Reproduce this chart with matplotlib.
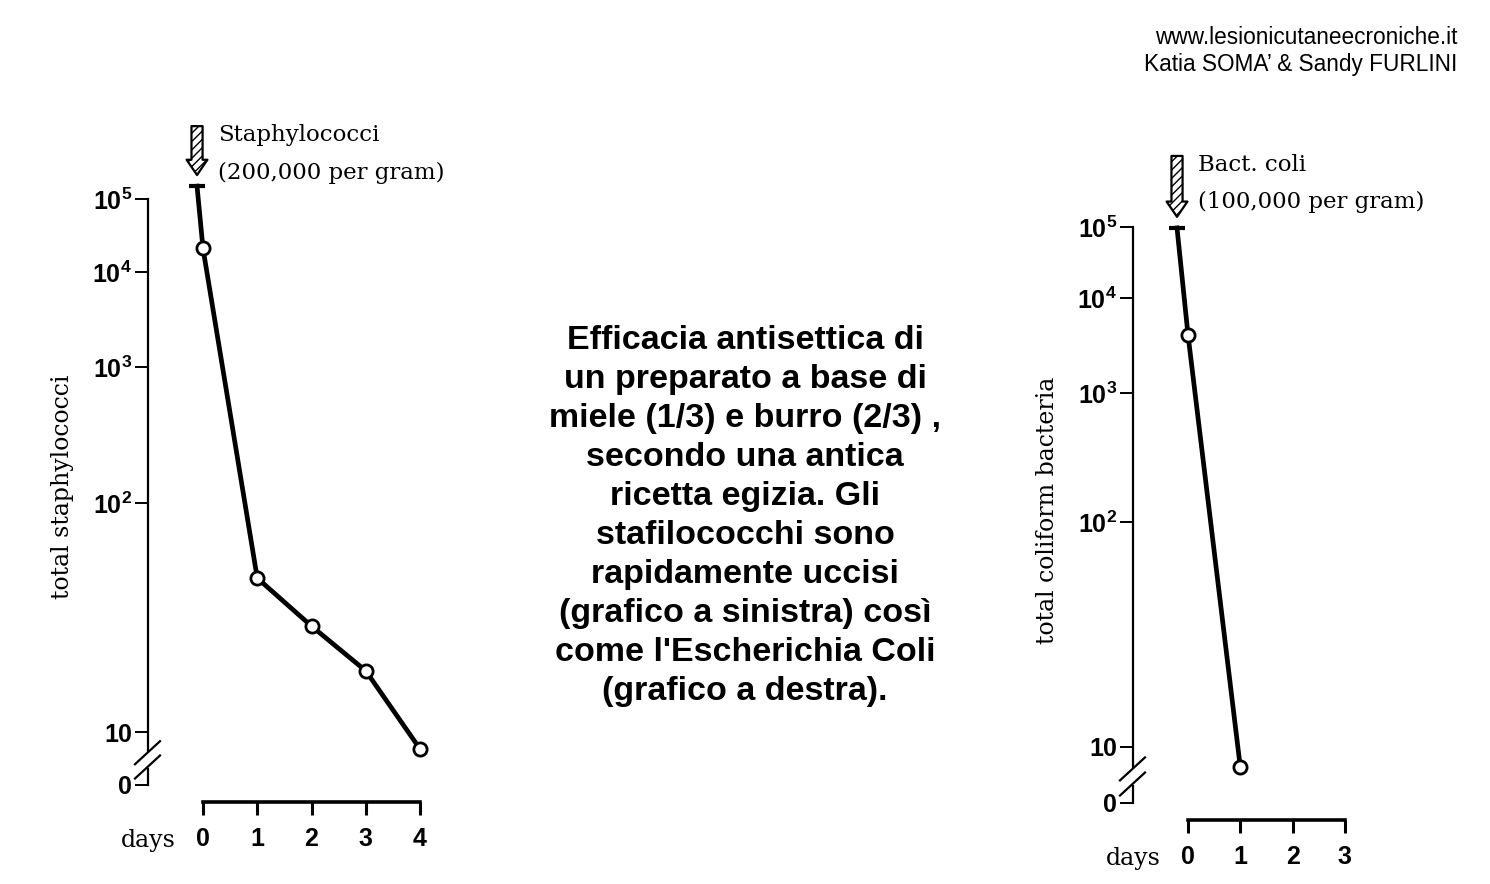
import numpy as np
import matplotlib
matplotlib.use("Agg")
import matplotlib.pyplot as plt
from matplotlib.lines import Line2D

# ------------------------------------------
# Data
# ------------------------------------------
staph_days = [-0.11, 0, 1, 2, 3, 4]
staph_counts = [1.5e5, 2.1e4, 47, 29, 18.5, 6.8]

coli_days = [-0.21, 0, 1]
coli_counts = [9.7e4, 4.1e3, 6.4]

y_ticks = [0, 10, 1e2, 1e3, 1e4, 1e5]
y_tick_labels = ["0", "10", r"$\mathbf{10^{2}}$", r"$\mathbf{10^{3}}$",
                 r"$\mathbf{10^{4}}$", r"$\mathbf{10^{5}}$"]
staph_day_ticks = [0, 1, 2, 3, 4]
coli_day_ticks = [0, 1, 2, 3]

center_text = ("Efficacia antisettica di\nun preparato a base di\n"
               "miele (1/3) e burro (2/3) ,\nsecondo una antica\n"
               "ricetta egizia. Gli\nstafilococchi sono\n"
               "rapidamente uccisi\n(grafico a sinistra) così\n"
               "come l'Escherichia Coli\n(grafico a destra).")

plt.rcParams["mathtext.fontset"] = "custom"
plt.rcParams["mathtext.bf"] = "Liberation Sans:bold"
plt.rcParams["mathtext.rm"] = "Liberation Sans"

W, H = 1490, 884
fig = plt.figure(figsize=(W / 100, H / 100), dpi=100)

SERIF = "DejaVu Serif"
TICKFONT = ["Liberation Sans", "DejaVu Sans"]


def fx(px):
    return px / W


def fy(py):
    return 1 - py / H


def make_scale(decade_pos):
    # the printed axis is not evenly logarithmic: decades sit at uneven
    # heights, and below 10 it runs linearly down to 0
    pos = list(decade_pos)
    step = pos[-1] - pos[-2]
    pos += [pos[-1] + step, pos[-1] + 2 * step]
    logs = np.arange(1, len(pos) + 1, dtype=float)

    def fwd(v):
        v = np.asarray(v, float)
        lin = v / 10 * pos[0]
        lg = np.interp(np.log10(np.clip(v, 10, None)), logs, pos)
        return np.where(v < 10, lin, lg)

    def inv(p):
        p = np.asarray(p, float)
        lin = p / pos[0] * 10
        lg = 10 ** np.interp(p, pos, logs)
        return np.where(p < pos[0], lin, lg)

    return fwd, inv


def draw_panel(rect_px, zero_px, decade_px, day0_px, day_step, days, counts,
               day_ticks, ylabel, note, arrow_dy, note_dy):
    x0, x1, ytop, ybot = rect_px
    ax = fig.add_axes([fx(x0), fy(ybot), fx(x1 - x0), (ybot - ytop) / H])
    fwd, inv = make_scale([zero_px - p for p in decade_px])
    ax.set_yscale("function", functions=(fwd, inv))
    ax.set_ylim(float(inv(zero_px - ybot)), float(inv(zero_px - ytop)))
    ax.set_xlim(-(day0_px - x0) / day_step, (x1 - day0_px) / day_step)

    # curve
    ax.plot(days, counts, color="black", lw=3.4, solid_joinstyle="round",
            zorder=3, clip_on=False)
    ax.plot(days[1:], counts[1:], "o", ms=9.5, mfc="white", mec="black",
            mew=2, zorder=4, clip_on=False)
    ax.plot(days[0], counts[0], "_", ms=11, mew=3, color="black", zorder=4)

    # inoculation arrow
    ax.annotate("", xy=(days[0], counts[0]), xytext=(0, arrow_dy),
                textcoords="offset pixels",
                arrowprops=dict(arrowstyle="simple,head_width=1.5,head_length=1.1,tail_width=0.8",
                                fc="white", ec="black", lw=1.6, hatch="////",
                                shrinkA=0, shrinkB=8))
    ax.annotate(note, xy=(days[0], counts[0]), xytext=(21, note_dy),
                textcoords="offset pixels", ha="left", va="top",
                fontsize=16.5, family=SERIF, linespacing=1.9)

    # axes styling
    for s in ["top", "right"]:
        ax.spines[s].set_visible(False)
    ax.spines["left"].set_bounds(6.4, 1e5)
    ax.spines["left"].set_linewidth(1.6)
    ax.spines["bottom"].set_bounds(day_ticks[0], day_ticks[-1])
    ax.spines["bottom"].set_linewidth(2.6)
    ax.set_yticks(y_ticks)
    ax.set_yticklabels(y_tick_labels)
    ax.yaxis.set_minor_locator(matplotlib.ticker.NullLocator())
    ax.set_xticks(day_ticks)
    ax.set_xticklabels([str(d) for d in day_ticks])
    ax.tick_params(axis="y", length=9.5, width=1.4, pad=2, labelsize=18)
    ax.tick_params(axis="x", length=9, width=2.2, pad=9, labelsize=18)
    for lab in ax.get_xticklabels() + ax.get_yticklabels():
        lab.set_family(TICKFONT)
        lab.set_fontweight("bold")

    # lower stub of the broken y axis and break marks
    xl = ax.get_xlim()[0]
    ax.plot([xl, xl], [0, 3.0], color="black", lw=1.6, clip_on=False)
    for v in (3.3, 6.0):
        yp = zero_px - fwd(v)
        fig.add_artist(Line2D([fx(x0 - 13), fx(x0 + 12)], [fy(yp + 11), fy(yp - 12)],
                              color="black", lw=1.6))

    fig.text(fx(x0 - 85), fy((decade_px[-1] + zero_px) / 2 - 5), ylabel,
             rotation=90, ha="center", va="center", fontsize=17, family=SERIF)
    fig.text(fx(day0_px - 27), fy(ybot + 38), "days", ha="right", va="center",
             fontsize=17, family=SERIF)
    return ax


draw_panel((148, 445, 110, 802), 785, [732, 503, 367, 272, 199], 203, 54.25,
           staph_days, staph_counts, staph_day_ticks, "total staphylococci",
           "Staphylococci\n(200,000 per gram)", 60, 62)

draw_panel((1133, 1420, 140, 820), 803, [747, 522, 393, 298, 227], 1188, 52.3,
           coli_days, coli_counts, coli_day_ticks, "total coliform bacteria",
           "Bact. coli\n(100,000 per gram)", 72, 74)

fig.text(fx(745), fy(516), center_text, ha="center", va="center",
         fontsize=24.5, fontweight="bold", family="Liberation Sans",
         linespacing=1.335)

fig.text(fx(1457), fy(38), "www.lesionicutaneecroniche.it", ha="right",
         va="center", fontsize=16.3, family="Liberation Sans")
fig.text(fx(1457), fy(64), "Katia SOMA\u2019 & Sandy FURLINI", ha="right",
         va="center", fontsize=16.3, family="Liberation Sans")

plt.savefig("out.png", dpi=100)
